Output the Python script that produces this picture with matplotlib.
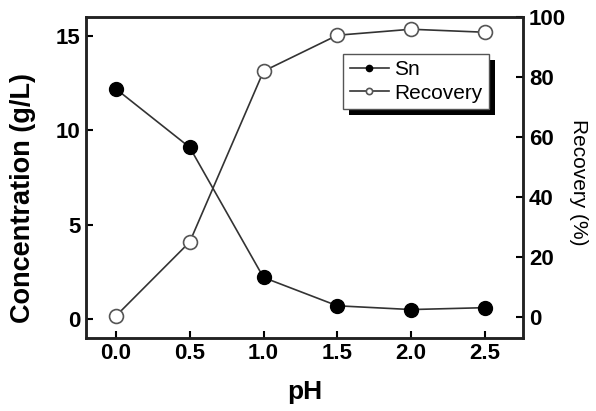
import matplotlib.pyplot as plt
from matplotlib.patches import Rectangle
from matplotlib.transforms import IdentityTransform

# data
ph = [0.0, 0.5, 1.0, 1.5, 2.0, 2.5]
sn = [12.2, 9.1, 2.2, 0.7, 0.5, 0.6]
recovery = [0.3, 25, 82, 94, 96, 95]

plt.rcParams['font.family'] = ['Liberation Sans', 'DejaVu Sans']

fig, ax = plt.subplots(figsize=(5.96, 4.11), dpi=100)
fig.subplots_adjust(left=0.145, right=0.878, top=0.958, bottom=0.178)
ax2 = ax.twinx()

l1, = ax.plot(ph, sn, '-', color='#333333', lw=1.2, marker='o', ms=10,
              mfc='black', mec='black', label='Sn', zorder=3)
l2, = ax2.plot(ph, recovery, '-', color='#333333', lw=1.2, marker='o', ms=10,
               mfc='white', mec='#555555', mew=1.2, label='Recovery', zorder=3)

ax.set_xlim(-0.2, 2.76)
ax.set_ylim(-1, 16)
ax2.set_ylim(-7, 100)
ax.set_xticks(ph)
ax.set_xticklabels([f'{v:.1f}' for v in ph])
ax.set_yticks([0, 5, 10, 15])
ax2.set_yticks([0, 20, 40, 60, 80, 100])

for a in (ax, ax2):
    a.tick_params(direction='in', length=5, width=1.5, labelsize=16, pad=4)
    for s in a.spines.values():
        s.set_linewidth(1.8)
        s.set_color('#222222')
for lab in ax.get_xticklabels() + ax.get_yticklabels() + ax2.get_yticklabels():
    lab.set_fontweight('bold')

# axis titles
fig.text(0.512, 0.046, 'pH', fontsize=19, fontweight='bold', ha='center', va='center')
fig.text(0.0386, 0.518, 'Concentration (g/L)', fontsize=19.5, fontweight='bold',
         rotation=90, ha='center', va='center')
fig.text(0.970, 0.556, 'Recovery (%)', fontsize=15, rotation=270,
         ha='center', va='center')

leg = ax2.legend([l1, l2], ['Sn', 'Recovery'], loc='upper left',
                 bbox_to_anchor=(0.588, 0.885), fontsize=15, markerscale=0.45,
                 handlelength=1.9, handletextpad=0.25, borderpad=0.3,
                 labelspacing=0.2, borderaxespad=0, fancybox=False,
                 framealpha=1, edgecolor='#555555')
leg.get_frame().set_linewidth(1.0)
leg.set_zorder(6)

# black drop shadow behind the legend box
fig.canvas.draw()
bb = leg.get_window_extent()
ax2.add_patch(Rectangle((bb.x0 + 6, bb.y0 - 6), bb.width, bb.height,
                        transform=IdentityTransform(), facecolor='black',
                        edgecolor='none', zorder=5))

plt.savefig('out.png', dpi=100)
